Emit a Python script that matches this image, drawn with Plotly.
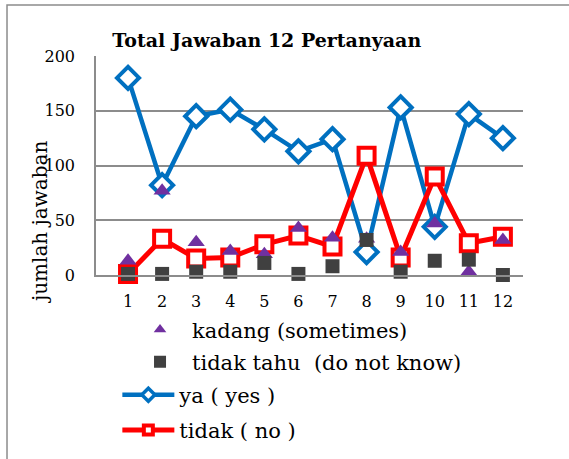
import plotly.graph_objects as go

questions = [1, 2, 3, 4, 5, 6, 7, 8, 9, 10, 11, 12]
ya = [180, 82, 145, 151, 133, 113, 124, 21, 153, 44, 147, 125]
tidak = [1, 33, 15, 16, 28, 36, 26, 109, 16, 90, 29, 35]
kadang = [13, 77, 30, 22, 19, 43, 34, 33, 21, 47, 3, 32]
tidak_tahu = [1, 1, 3, 3, 11, 1, 8, 32, 3, 13, 14, 0]

SERIF = "DejaVu Serif"
GRID = "#8c8c8c"
BLUE = "#0070C0"
RED = "#FF0000"
PURPLE = "#7030A0"
DARK = "#404040"

fig = go.Figure()

# drawing order: lines first, then marker-only series on top
fig.add_trace(go.Scatter(
    x=questions, y=ya, name="ya ( yes )", mode="lines+markers",
    line=dict(color=BLUE, width=4.5),
    marker=dict(symbol="diamond", size=17, color="white", line=dict(color=BLUE, width=4)),
    cliponaxis=False, showlegend=False,
))
fig.add_trace(go.Scatter(
    x=questions, y=tidak, name="tidak ( no )", mode="lines+markers",
    line=dict(color=RED, width=5),
    marker=dict(symbol="square", size=16, color="white", line=dict(color=RED, width=4)),
    cliponaxis=False, showlegend=False,
))
fig.add_trace(go.Scatter(
    x=questions, y=kadang, name="kadang (sometimes)", mode="markers",
    marker=dict(symbol="triangle-up", size=15, color=PURPLE),
    cliponaxis=False, showlegend=False,
))
fig.add_trace(go.Scatter(
    x=questions, y=tidak_tahu, name="tidak tahu  (do not know)", mode="markers",
    marker=dict(symbol="square", size=14, color=DARK),
    cliponaxis=False, showlegend=False,
))

# legend entries (smaller symbols, as in the original legend)
fig.add_trace(go.Scatter(
    x=[None], y=[None], name="kadang (sometimes)", mode="markers",
    marker=dict(symbol="triangle-up", size=11, color=PURPLE),
    legend="legend", legendgroup="kadang", legendrank=1,
))
fig.add_trace(go.Scatter(
    x=[None], y=[None], name="tidak tahu  (do not know)", mode="markers",
    marker=dict(symbol="square", size=12, color=DARK),
    legend="legend", legendgroup="tahu", legendrank=2,
))
fig.add_trace(go.Scatter(
    x=[None], y=[None], name="ya ( yes )", mode="lines+markers",
    line=dict(color=BLUE, width=4.5),
    marker=dict(symbol="diamond", size=10, color="white", line=dict(color=BLUE, width=3.5)),
    legend="legend2", legendgroup="ya", legendrank=1,
))
fig.add_trace(go.Scatter(
    x=[None], y=[None], name="tidak ( no )", mode="lines+markers",
    line=dict(color=RED, width=5),
    marker=dict(symbol="square", size=9, color="white", line=dict(color=RED, width=4)),
    legend="legend2", legendgroup="tidak", legendrank=2,
))

fig.update_layout(
    width=569, height=459,
    margin=dict(l=96, r=46, t=56, b=184, autoexpand=False),
    paper_bgcolor="white", plot_bgcolor="white",
    font=dict(family=SERIF, size=16, color="black"),
    title=dict(text="<b>Total Jawaban 12 Pertanyaan</b>", x=0.40, xanchor="center",
               xref="paper", y=1 - 40 / 459, yanchor="middle",
               font=dict(family=SERIF, size=19, color="black")),
    xaxis=dict(range=[0.06, 12.59], tickvals=questions, showgrid=False,
               showline=True, linecolor=GRID, linewidth=1.5, zeroline=False,
               ticks="", ticklabelstandoff=11, tickfont=dict(size=16)),
    yaxis=dict(range=[0, 200], tickvals=[0, 50, 100, 150, 200], showgrid=True,
               gridcolor=GRID, gridwidth=1.5, showline=True, linecolor=GRID,
               linewidth=1.5, zeroline=False, ticks="", ticklabelstandoff=16,
               tickfont=dict(size=16)),
    legend=dict(x=0.075, y=-0.157, xanchor="left", yanchor="top",
                bgcolor="rgba(0,0,0,0)", font=dict(family=SERIF, size=21),
                traceorder="grouped", tracegroupgap=2, itemwidth=54),
    legend2=dict(x=0.05, y=-0.455, xanchor="left", yanchor="top",
                 bgcolor="rgba(0,0,0,0)", font=dict(family=SERIF, size=21),
                 traceorder="grouped", tracegroupgap=5, itemwidth=52),
    showlegend=True,
)

fig.add_annotation(text="jumlah jawaban", textangle=-90, x=-0.131, y=0.242,
                   xref="paper", yref="paper", xanchor="center", yanchor="middle",
                   showarrow=False, font=dict(family=SERIF, size=20, color="black"))

# outer chart border (left and top edges visible)
fig.add_shape(type="rect", xref="paper", yref="paper",
              x0=-0.2084, x1=2, y0=-2, y1=1.2329,
              line=dict(color="#8c8c8c", width=1.5))

fig.write_html("out.html", config={"displayModeBar": False},
               post_script="document.body.style.margin = '0px';")
